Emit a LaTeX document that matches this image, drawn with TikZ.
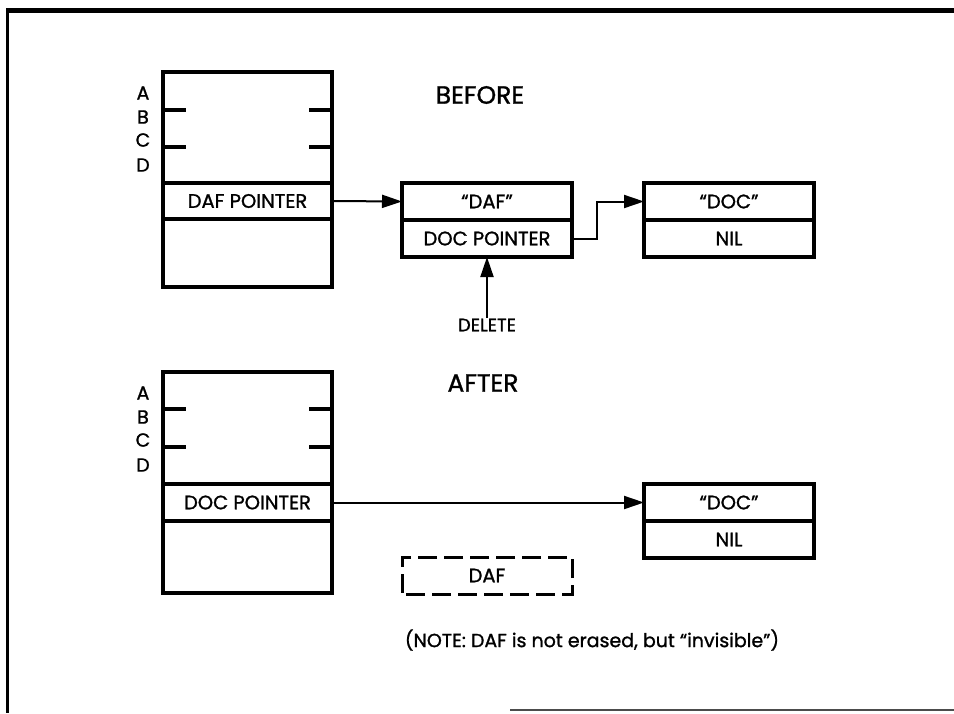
\documentclass[tikz,border=0pt]{standalone}
\usepackage{fontspec}
\setmainfont{Poppins}[FakeBold=1.2]
\usepackage{tikz}
\usetikzlibrary{arrows.meta, positioning, calc}

\begin{document}
\begin{tikzpicture}[
  x=1pt, y=-1pt,
  memory/.style={draw, line width=3.2pt, minimum width=169pt, inner sep=0pt, outer sep=0pt},
  cell/.style={draw, line width=3.2pt, minimum width=170pt, minimum height=37pt, inner sep=0pt, outer sep=0pt, font=\fontsize{19.5}{22}\selectfont},
  ghost/.style={cell, line width=3pt, dash pattern=on 19pt off 7pt, dash phase=-4pt},
  heading/.style={font=\fontsize{25}{29}\selectfont},
  tag/.style={font=\fontsize{18}{21}\selectfont, inner sep=1pt},
  arr/.style={-{Triangle[length=20pt, width=13pt]}, line width=2pt},
  node distance=0pt
]
\useasboundingbox (0,0) rectangle (954,713);

% frame
\draw[line width=5pt] (6,10) -- (954,10);
\draw[line width=3pt] (7,8) -- (7,713);
\draw[line width=1.2pt, gray!60!black] (510,710) -- (954,710);

% before
\node[heading] (before) at (480,95) {BEFORE};
\node[memory, minimum height=215pt, anchor=north west] (memB) at (163,72) {};
\node[cell, minimum width=169pt, minimum height=36pt, anchor=north west] (dafptr) at (163,183) {DAF POINTER};
\foreach \l/\y in {A/93, B/117, C/140, D/165}
  \node[tag, font=\fontsize{19}{22}\selectfont] (b\l) at (143,\y) {\l};
\foreach \y in {110, 147} {
  \draw[line width=3.2pt] (163,\y) -- ++(23,0);
  \draw[line width=3.2pt] (332,\y) -- ++(-23,0);
}

\node[cell, anchor=north west] (daf) at (402,183) {``DAF''};
\node[cell, below=of daf] (docptr) {DOC POINTER};
\node[cell, anchor=north west] (doc) at (644,183) {``DOC''};
\node[cell, below=of doc] (nil) {NIL};
\node[tag] (delete) at (487,325) {DELETE};

\draw[arr] (dafptr.east) -- (daf.west);
\draw[arr] (docptr.east) -- ++(25,0) |- (doc.west);
\draw[arr] (delete.north) -- (docptr.south);

% after
\node[heading] (after) at (483,383) {AFTER};
\node[memory, minimum height=221pt, anchor=north west] (memA) at (163,372) {};
\node[cell, minimum width=169pt, minimum height=37pt, anchor=north west] (docptrA) at (163,484) {DOC POINTER};
\foreach \l/\y in {A/393, B/417, C/440, D/465}
  \node[tag, font=\fontsize{19}{22}\selectfont] (a\l) at (143,\y) {\l};
\foreach \y in {409, 447} {
  \draw[line width=3.2pt] (163,\y) -- ++(23,0);
  \draw[line width=3.2pt] (332,\y) -- ++(-23,0);
}

\node[cell, anchor=north west] (docA) at (644,484) {``DOC''};
\node[cell, below=of docA] (nilA) {NIL};
\node[ghost, anchor=north west] (dafA) at (402,557) {DAF};
\node[tag, font=\fontsize{19}{22}\selectfont] (note) at (592,640) {(NOTE: DAF is not erased, but ``invisible'')};

\draw[arr] (docptrA.east) -- (docA.west);
\end{tikzpicture}
\end{document}
